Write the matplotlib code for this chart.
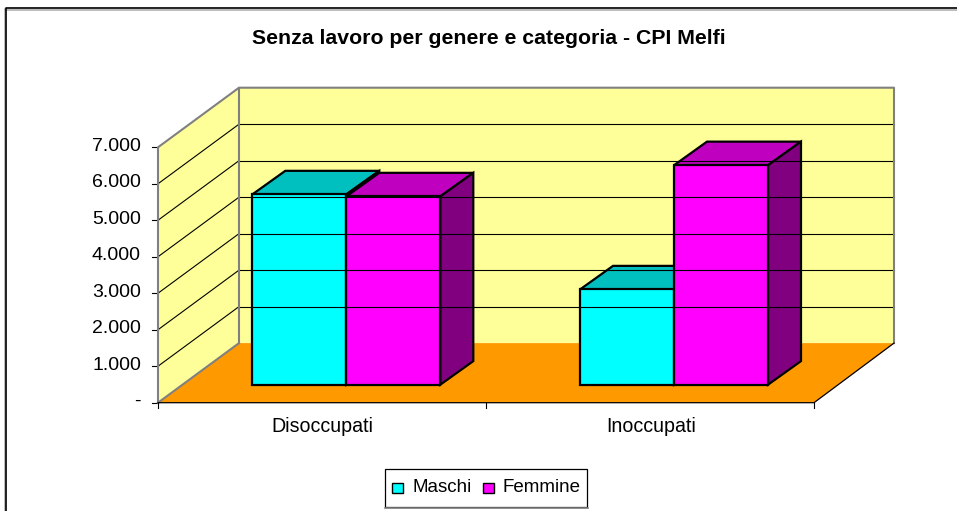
import matplotlib
matplotlib.use("Agg")
import matplotlib.pyplot as plt
from matplotlib.patches import Polygon, Rectangle

plt.rcParams["font.family"] = ["Liberation Sans", "DejaVu Sans"]

categories = ["Disoccupati", "Inoccupati"]
series_names = ["Maschi", "Femmine"]
maschi = [5215, 2610]
femmine = [5160, 6015]
y_ticks = [0, 1000, 2000, 3000, 4000, 5000, 6000, 7000]
y_labels = ["-", "1.000", "2.000", "3.000", "4.000", "5.000", "6.000", "7.000"]

# ── Fake 3D geometry in pixels ────────────────────────────────────────────────
X0, X1 = 158, 814         # front edge of the floor
Y0, YTOP = 402.7, 147.3   # value 0 and value 7000 on the front plane
DX, DY = 81, -59.6        # depth of the whole box
BAR_DX, BAR_DY = 33, -23.6
BAR_BASE = 384.7
BAR_LEFT = [252.3, 580]
BAR_W = 94

def ypx(v):
    return Y0 + (YTOP - Y0) * v / 7000

def bar_top(v):
    return BAR_BASE + (YTOP - Y0) * v / 7000

fig = plt.figure(figsize=(9.57, 5.11), dpi=100)
ax = fig.add_axes([0, 0, 1, 1])
ax.set_xlim(0, 957)
ax.set_ylim(511, 0)
ax.axis("off")

WALL = "#FFFF99"
GRAY = "#808080"
BACK_R = X1 + DX - 1

# outer frame: only top and left are inside the picture
ax.plot([4.5, 4.5], [9, 511], color="#B0B0B0", lw=1.2)
ax.plot([5, 957], [9.7, 9.7], color="#B0B0B0", lw=1.2)
ax.plot([5.7, 5.7, 957], [511, 8.3, 8.3], color="black", lw=1.2)

# walls and floor
ax.add_patch(Polygon([(X0, Y0), (X0 + DX, Y0 + DY), (X0 + DX, YTOP + DY), (X0, YTOP)],
                     fc=WALL, ec="none"))
ax.add_patch(Polygon([(X0 + DX, Y0 + DY), (BACK_R, Y0 + DY), (BACK_R, YTOP + DY), (X0 + DX, YTOP + DY)],
                     fc=WALL, ec="none"))
ax.add_patch(Polygon([(X0, Y0), (X0 + DX, Y0 + DY), (BACK_R, Y0 + DY), (X1, Y0)],
                     fc="#FF9900", ec="none"))

# gridlines and ticks
for v, lab in zip(y_ticks, y_labels):
    y = ypx(v)
    if 0 < v < 7000:
        ax.plot([X0, X0 + DX], [y, y + DY], color="black", lw=0.8)
        ax.plot([X0 + DX, BACK_R], [y + DY, y + DY], color="black", lw=0.8)
    ax.plot([X0 - 6, X0], [y, y], color="black", lw=0.8)
    ax.text(141, y - 1, lab, ha="right", va="center", fontsize=14)

# wall edges
ax.plot([X0, X0, X0 + DX, BACK_R, BACK_R], [Y0, YTOP, YTOP + DY, YTOP + DY, Y0 + DY], color=GRAY, lw=1.5)
ax.plot([X0 + DX, X0 + DX], [YTOP + DY, Y0 + DY], color=GRAY, lw=1.5)
ax.plot([X0, X0 + DX], [Y0, Y0 + DY], color=GRAY, lw=1.5)
ax.plot([X0, X1, BACK_R], [Y0, Y0, Y0 + DY], color="black", lw=0.9)
for x in [X0, (X0 + X1) / 2, X1]:
    ax.plot([x, x], [Y0, Y0 + 5], color="black", lw=0.8)

# bars, back to front
def draw_bar(left, v, front, top, side):
    t = bar_top(v)
    r = left + BAR_W
    kw = dict(ec="black", lw=1.6, joinstyle="miter")
    ax.add_patch(Polygon([(left, t), (left + BAR_DX, t + BAR_DY), (r + BAR_DX, t + BAR_DY), (r, t)], fc=top, **kw))
    ax.add_patch(Polygon([(r, t), (r + BAR_DX, t + BAR_DY), (r + BAR_DX, BAR_BASE + BAR_DY), (r, BAR_BASE)], fc=side, **kw))
    ax.add_patch(Rectangle((left, t), BAR_W, BAR_BASE - t, fc=front, **kw))

for i in range(len(categories)):
    draw_bar(BAR_LEFT[i], maschi[i], "#00FFFF", "#00BFBF", "#008080")
    draw_bar(BAR_LEFT[i] + BAR_W, femmine[i], "#FF00FF", "#BF00BF", "#800080")

# category labels
for x, c in zip([322.5, 651.5], categories):
    ax.text(x, 427, c, ha="center", va="center", fontsize=14.1)

ax.text(489, 38, "Senza lavoro per genere e categoria - CPI Melfi",
        ha="center", va="center", fontsize=15.3, fontweight="bold")

# legend
ax.add_patch(Rectangle((385, 469.5), 202, 38, fc="white", ec="black", lw=0.9))
ax.plot([385, 588], [508.3, 508.3], color=GRAY, lw=1.2)
for x, tx, col, name in zip([392, 483], [412, 502], ["#00FFFF", "#FF00FF"], series_names):
    ax.add_patch(Rectangle((x, 483), 10.5, 10.5, fc=col, ec="black", lw=1))
    ax.text(tx, 487.5, name, ha="left", va="center", fontsize=13.5)

fig.savefig("out.png", dpi=100)
